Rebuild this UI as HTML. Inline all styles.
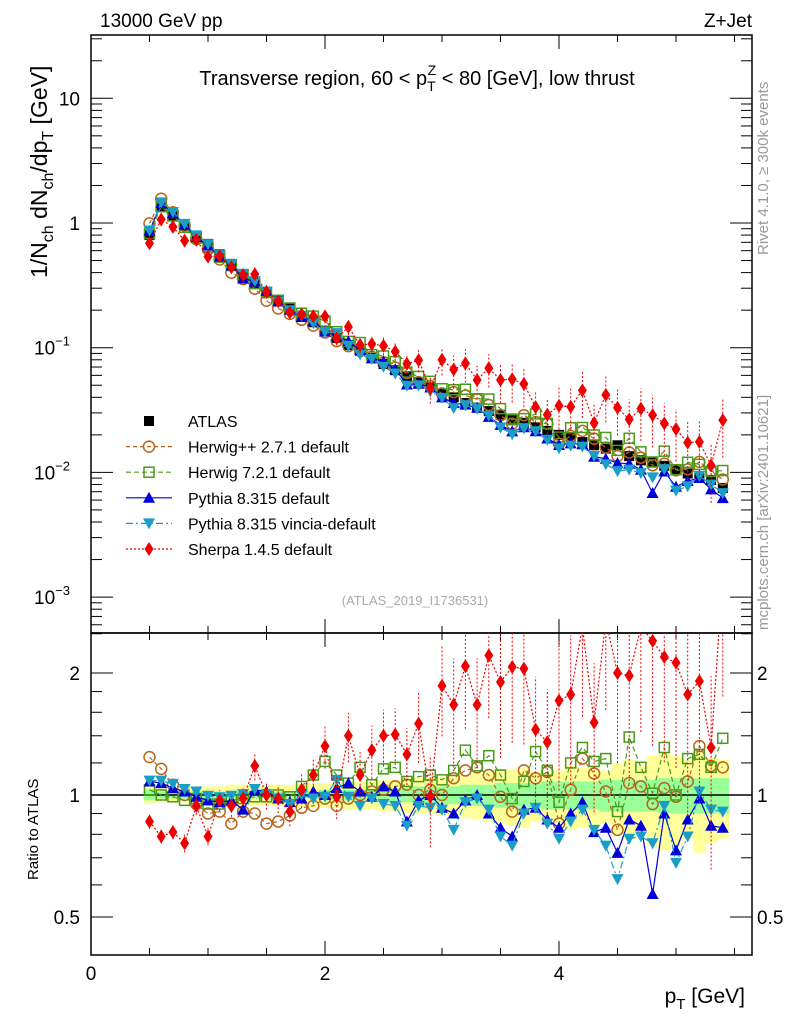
<!DOCTYPE html>
<html><head><meta charset="utf-8"><style>
html,body{margin:0;padding:0;background:#fff}
svg{display:block;font-family:"Liberation Sans",sans-serif}
</style></head><body>
<svg id="c" width="786" height="1024" viewBox="0 0 786 1024" xmlns="http://www.w3.org/2000/svg">
<text x="100" y="27" font-size="19">13000 GeV pp</text>
<text x="752" y="27" font-size="19" text-anchor="end">Z+Jet</text>
<text x="417" y="85" font-size="20" text-anchor="middle">Transverse region, 60 &lt; p<tspan font-size="14" dy="6">T</tspan><tspan font-size="14" dx="-8" dy="-16">Z</tspan><tspan dy="10"> &lt; 80 [GeV], low thrust</tspan></text>
<text transform="translate(768,255) rotate(-90)" font-size="15" fill="#999">Rivet 4.1.0, ≥ 300k events</text>
<text transform="translate(768,630) rotate(-90)" font-size="15" fill="#999">mcplots.cern.ch [arXiv:2401.10621]</text>
<text x="415" y="605" font-size="13" fill="#aaa" text-anchor="middle">(ATLAS_2019_I1736531)</text>
<text transform="translate(47,278) rotate(-90)" font-size="23">1/N<tspan font-size="16" dy="6">ch</tspan><tspan dy="-6"> dN</tspan><tspan font-size="16" dy="6">ch</tspan><tspan dy="-6">/dp</tspan><tspan font-size="16" dy="6">T</tspan><tspan dy="-6"> [GeV]</tspan></text>
<text transform="translate(38,880) rotate(-90)" font-size="15">Ratio to ATLAS</text>
<text x="745" y="1003" font-size="21" text-anchor="end">p<tspan font-size="15" dy="6">T</tspan><tspan dy="-6"> [GeV]</tspan></text>
</svg>
<script>
const xs = [0.5,0.6,0.7,0.8,0.9,1.0,1.1,1.2,1.3,1.4,1.5,1.6,1.7,1.8,1.9,2.0,2.1,2.2,2.3,2.4,2.5,2.6,2.7,2.8,2.9,3.0,3.1,3.2,3.3,3.4,3.5,3.6,3.7,3.8,3.9,4.0,4.1,4.2,4.3,4.4,4.5,4.6,4.7,4.8,4.9,5.0,5.1,5.2,5.3,5.4];
const atlas = [0.8,1.35,1.15,0.95,0.78,0.68,0.56,0.47,0.39,0.33,0.28,0.24,0.21,0.18,0.16,0.135,0.12,0.105,0.094,0.083,0.074,0.066,0.059,0.053,0.048,0.043,0.04,0.036,0.033,0.031,0.029,0.027,0.025,0.023,0.0215,0.02,0.019,0.0175,0.0165,0.0155,0.0165,0.0135,0.0125,0.012,0.0113,0.0105,0.0098,0.0092,0.0087,0.0075];
const errInner = [0.03,0.02,0.02,0.02,0.02,0.02,0.02,0.02,0.02,0.02,0.02,0.02,0.02,0.02,0.02,0.03,0.03,0.03,0.03,0.03,0.04,0.04,0.04,0.05,0.05,0.05,0.05,0.06,0.06,0.06,0.07,0.07,0.07,0.07,0.08,0.08,0.08,0.08,0.08,0.09,0.09,0.09,0.09,0.09,0.1,0.1,0.1,0.1,0.1,0.1];
const errOuter = [0.05,0.04,0.04,0.04,0.05,0.05,0.05,0.06,0.06,0.06,0.06,0.06,0.06,0.07,0.07,0.07,0.07,0.08,0.08,0.08,0.09,0.09,0.1,0.1,0.1,0.11,0.11,0.12,0.13,0.14,0.15,0.16,0.17,0.14,0.13,0.15,0.18,0.17,0.16,0.15,0.2,0.22,0.18,0.25,0.27,0.25,0.22,0.28,0.24,0.22];
const herwigpp = [1.24,1.16,1.06,1.0,0.95,0.9,0.91,0.85,0.91,0.9,0.85,0.86,0.89,0.93,0.94,0.98,0.94,0.98,1.0,1.02,1.03,1.05,1.06,1.0,1.03,1.0,1.1,1.15,1.17,1.12,0.99,0.91,1.15,1.1,1.14,0.85,1.03,1.23,1.13,1.02,0.82,1.07,1.05,0.95,1.04,0.99,1.08,1.32,1.18,1.17];
const herwig7 = [1.03,1.0,0.99,0.97,0.98,0.95,0.95,0.97,0.98,0.99,0.99,1.0,0.99,1.05,1.12,1.21,1.12,1.07,1.17,1.06,1.16,1.17,1.08,1.11,1.12,1.09,1.15,1.29,1.18,1.25,1.12,0.98,1.08,1.28,1.15,0.96,1.2,1.31,1.21,1.23,0.91,1.39,1.17,1.01,1.31,1.0,1.23,1.26,1.17,1.38];
const pythia = [1.08,1.07,1.04,1.02,0.99,0.97,0.96,0.97,0.92,1.03,1.02,0.98,0.96,0.98,1.02,1.0,1.04,1.07,1.02,0.99,1.05,1.02,0.86,0.97,1.0,0.93,0.9,0.97,1.0,0.9,0.83,0.79,0.92,0.93,0.87,0.83,0.9,0.96,0.81,0.83,0.72,0.87,0.84,0.57,0.9,0.73,0.87,0.98,0.84,0.83];
const vincia = [1.085,1.085,1.065,1.035,1.02,0.996,0.987,0.996,1.005,1.035,1.005,0.98,0.95,1.0,0.98,0.99,1.09,0.99,0.94,0.98,0.95,0.94,0.84,0.94,0.93,0.92,0.82,0.96,0.98,0.92,0.79,0.75,0.9,0.93,0.85,0.78,0.86,0.92,0.82,0.75,0.62,0.78,0.79,0.76,0.94,0.68,0.79,1.02,0.92,0.91];
const sherpa = [0.86,0.79,0.81,0.76,0.94,0.79,0.97,0.94,0.98,1.18,1.0,0.98,0.91,1.03,1.12,1.32,0.99,1.4,1.12,1.29,1.4,1.41,1.26,1.5,0.99,1.86,1.67,2.08,1.67,2.21,1.9,2.07,2.05,1.45,1.35,1.71,1.77,2.6,1.51,2.7,2.0,1.97,2.6,2.4,2.19,2.12,1.77,1.91,1.31,3.5];
const sherpaErr = [0.04,0.04,0.04,0.05,0.05,0.05,0.06,0.06,0.06,0.08,0.08,0.08,0.08,0.1,0.1,0.12,0.12,0.14,0.14,0.15,0.16,0.16,0.16,0.2,0.25,0.25,0.3,0.3,0.3,0.3,0.35,0.35,0.35,0.35,0.35,0.4,0.4,0.4,0.4,0.4,0.4,0.45,0.45,0.45,0.45,0.45,0.5,0.5,0.5,0.5];
const xTicks = [0,2,4];
const mainTicks = [{v:10,t:"10"},{v:1,t:"1"},{v:0.1,t:"10",e:"−1"},{v:0.01,t:"10",e:"−2"},{v:0.001,t:"10",e:"−3"}];
const ratioTicks = [{v:2,t:"2"},{v:1,t:"1"},{v:0.5,t:"0.5"}];

const NS="http://www.w3.org/2000/svg", svg=document.getElementById('c');
const X0=91,X1=752,MT=35,MB=633,RB=955;
const xp=v=>X0+v*117;
const ym=v=>223-Math.log10(v)*124.7;
const yr=v=>795-Math.log2(v)*122;
function mk(tag,at,parent){const e=document.createElementNS(NS,tag);for(const k in at)e.setAttribute(k,at[k]);(parent||svg).appendChild(e);return e;}
const defs=mk('defs',{});
const cm=mk('clipPath',{id:'cm'},defs);mk('rect',{x:X0,y:MT,width:X1-X0,height:MB-MT},cm);
const cr=mk('clipPath',{id:'cr'},defs);mk('rect',{x:X0,y:MB,width:X1-X0,height:RB-MB},cr);

const gb=mk('g',{'clip-path':'url(#cr)'});


xs.forEach((x,i)=>{
  const a=xp(x-0.05),w=117*0.1+0.5;
  const r1=mk('rect',{x:a,y:yr(1+errOuter[i]),width:w,height:yr(1-errOuter[i])-yr(1+errOuter[i]),fill:'#ffff99'},gb);
  
  
  const r2=mk('rect',{x:a,y:yr(1+errInner[i]),width:w,height:yr(1-errInner[i])-yr(1+errInner[i]),fill:'#99ff99'},gb);
  
  
});
mk('line',{x1:X0,x2:X1,y1:yr(1),y2:yr(1),stroke:'#000','stroke-width':1.5});

function frame(top,bot,name){const r=mk('rect',{x:X0,y:top,width:X1-X0,height:bot-top,fill:'none',stroke:'#000','stroke-width':1.5});}
frame(MT,MB,'main-plot-frame');frame(MB,RB,'ratio-plot-frame');
function tk(x1,y1,x2,y2){mk('line',{x1,y1,x2,y2,stroke:'#000','stroke-width':1});}
for(let v=0;v<=5.6;v+=0.5){const x=xp(v);const major=Math.abs(v/2-Math.round(v/2))<1e-6;const l=major?14:7;
  tk(x,MB,x,MB-l);tk(x,MT,x,MT+l);tk(x,RB,x,RB-l);tk(x,MB,x,MB+l);}
xTicks.forEach(v=>{const t=mk('text',{x:xp(v),y:980,'font-size':19,'text-anchor':'middle'});t.textContent=v;});
for(let d=-4;d<=1;d++)for(let m=1;m<10;m++){const v=m*Math.pow(10,d),y=ym(v);if(y<MT||y>MB)continue;const l=m===1?22:11;tk(X0,y,X0+l,y);tk(X1,y,X1-l,y);}
mainTicks.forEach(o=>{const t=mk('text',{x:o.e?70:80,y:ym(o.v)+7,'font-size':19,'text-anchor':'end'});t.textContent=o.t;if(o.e){const s=mk('tspan',{'font-size':13,dy:-9},t);s.textContent=o.e;}});
[0.5,0.6,0.7,0.8,0.9,1,1.2,1.4,1.6,1.8,2,2.5].forEach(v=>{const y=yr(v);if(y<MB||y>RB)return;const l=(v===0.5||v===1||v===2)?22:11;tk(X0,y,X0+l,y);tk(X1,y,X1-l,y);});
ratioTicks.forEach(o=>{const y=yr(o.v)+7;const a=mk('text',{x:80,y,'font-size':19,'text-anchor':'end'});a.textContent=o.t;const b=mk('text',{x:757,y,'font-size':19});b.textContent=o.t;});

function marker(type,x,y,col,g){
  if(type==='sq')return mk('rect',{x:x-5,y:y-5,width:10,height:10,fill:'#000'},g);
  if(type==='osq')return mk('rect',{x:x-5,y:y-5,width:10,height:10,fill:'none',stroke:col,'stroke-width':1.5},g);
  if(type==='oc')return mk('circle',{cx:x,cy:y,r:5.5,fill:'none',stroke:col,'stroke-width':1.5},g);
  if(type==='tu')return mk('polygon',{points:`${x},${y-6} ${x-6},${y+5} ${x+6},${y+5}`,fill:col},g);
  if(type==='td')return mk('polygon',{points:`${x},${y+6} ${x-6},${y-5} ${x+6},${y-5}`,fill:col},g);
  if(type==='di')return mk('polygon',{points:`${x},${y-7} ${x-4.5},${y} ${x},${y+7} ${x+4.5},${y}`,fill:col},g);
}
const series=[
 {name:'herwigpp',label:'Herwig++ 2.7.1 default',r:herwigpp,col:'#b5651d',m:'oc',dash:'4,3'},
 {name:'herwig7',label:'Herwig 7.2.1 default',r:herwig7,col:'#4a9a1a',m:'osq',dash:'5,3'},
 {name:'pythia',label:'Pythia 8.315 default',r:pythia,col:'#0000dd',m:'tu',dash:''},
 {name:'vincia',label:'Pythia 8.315 vincia-default',r:vincia,col:'#1a9ec8',m:'td',dash:'7,3,2,3'},
 {name:'sherpa',label:'Sherpa 1.4.5 default',r:sherpa,col:'#ee0000',m:'di',dash:'2,2',err:sherpaErr}];
const ga=mk('g',{'clip-path':'url(#cm)'});


xs.forEach((x,i)=>{const e=marker('sq',xp(x),ym(atlas[i]),'#000',ga);});
series.forEach(s=>{
  const gm=mk('g',{'clip-path':'url(#cm)'});
  
  
  const gr=mk('g',{'clip-path':'url(#cr)'});
  
  
  if(s.err){xs.forEach((x,i)=>{
    const lo=Math.max(0.05,s.r[i]*(1-s.err[i])),hi=s.r[i]*(1+s.err[i]);
    mk('line',{x1:xp(x),x2:xp(x),y1:yr(lo),y2:yr(hi),stroke:s.col,'stroke-width':1,'stroke-dasharray':'2,2'},gr);
    mk('line',{x1:xp(x),x2:xp(x),y1:ym(atlas[i]*lo),y2:ym(atlas[i]*hi),stroke:s.col,'stroke-width':1,'stroke-dasharray':'2,2'},gm);
  });}
  const pm=xs.map((x,i)=>xp(x)+','+ym(atlas[i]*s.r[i])).join(' ');
  const pr=xs.map((x,i)=>xp(x)+','+yr(s.r[i])).join(' ');
  const l1=mk('polyline',{points:pm,fill:'none',stroke:s.col,'stroke-width':1.2,'stroke-dasharray':s.dash},gm);
  
  
  const l2=mk('polyline',{points:pr,fill:'none',stroke:s.col,'stroke-width':1.2,'stroke-dasharray':s.dash},gr);
  
  
  xs.forEach((x,i)=>{
    const a=marker(s.m,xp(x),ym(atlas[i]*s.r[i]),s.col,gm);
    
    
    const b=marker(s.m,xp(x),yr(s.r[i]),s.col,gr);
    
    
  });
});
const lg=mk('g',{});


const ents=[{label:'ATLAS',m:'sq',col:'#000',dash:null}].concat(series);
ents.forEach((s,i)=>{
  const y=421+i*25.6;
  const g=mk('g',{},lg);
  
  
  if(s.dash!==null&&s.dash!==undefined)mk('line',{x1:126,x2:172,y1:y,y2:y,stroke:s.col,'stroke-width':1.2,'stroke-dasharray':s.dash},g);
  marker(s.m,149,y,s.col,g);
  const t=mk('text',{x:188,y:y+6,'font-size':16},g);t.textContent=s.label;
});
</script>
</body></html>
